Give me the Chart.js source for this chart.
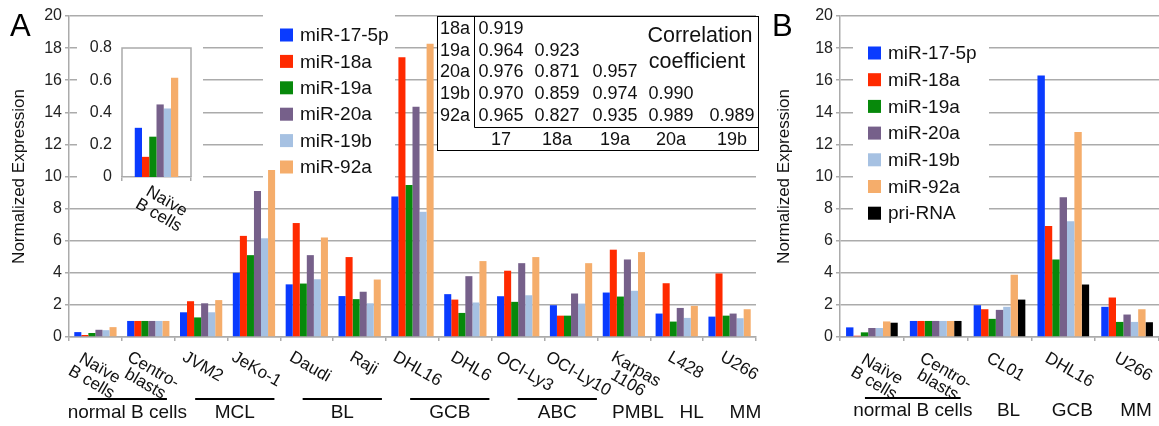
<!DOCTYPE html>
<html>
<head>
<meta charset="utf-8">
<script src="https://cdn.jsdelivr.net/npm/chart.js@4"></script>
<style>
  body { margin: 0; background: #fff; }
  #wrap { position: relative; width: 1159px; height: 426px; }
  canvas { position: absolute; }
</style>
</head>
<body>
<div id="wrap">
  <canvas id="chartA" width="770" height="426" style="left:0;top:0"></canvas>
  <canvas id="chartB" width="389" height="426" style="left:770px;top:0"></canvas>
  <canvas id="inset" width="126" height="215" style="left:77px;top:25px"></canvas>
</div>
<script>
// ---- data ----
const seriesNames = ['miR-17-5p', 'miR-18a', 'miR-19a', 'miR-20a', 'miR-19b', 'miR-92a'];
const seriesNamesB = ['miR-17-5p', 'miR-18a', 'miR-19a', 'miR-20a', 'miR-19b', 'miR-92a', 'pri-RNA'];
const colors = ['#0a3bff', '#ff2a00', '#07890b', '#76608a', '#a6c1e2', '#f5ad6b', '#000000'];

const labelsA = ['Naïve\nB cells', 'Centro-\nblasts', 'JVM2', 'JeKo-1', 'Daudi', 'Raji', 'DHL16', 'DHL6',
  'OCI-Ly3', 'OCI-Ly10', 'Karpas\n1106', 'L428', 'U266'];
const mir17A  = [0.305, 1, 1.54, 4.0, 3.28, 2.55, 8.75, 2.67, 2.54, 1.98, 2.77, 1.46, 1.27];
const mir18aA = [0.125, 1, 2.23, 6.3, 7.1, 4.98, 17.43, 2.33, 4.13, 1.33, 5.44, 3.35, 3.96];
const mir19aA = [0.25, 1, 1.22, 5.1, 3.33, 2.36, 9.47, 1.5, 2.19, 1.33, 2.52, 0.96, 1.33];
const mir20aA = [0.45, 1, 2.1, 9.1, 5.1, 2.82, 14.35, 3.79, 4.6, 2.71, 4.83, 1.81, 1.46];
const mir19bA = [0.425, 1, 1.54, 6.15, 3.6, 2.1, 7.8, 2.15, 2.6, 2.08, 2.88, 1.19, 1.17];
const mir92aA = [0.615, 1, 2.3, 10.4, 6.2, 3.58, 18.27, 4.73, 4.98, 4.6, 5.29, 1.94, 1.73];

const groupNamesA = ['normal B cells', 'MCL', 'BL', 'GCB', 'ABC', 'PMBL', 'HL', 'MM'];
const groupStartA = [0, 2, 4, 6, 8, 10, 11, 12];
const groupEndA   = [1, 3, 5, 7, 9, 10, 11, 12];

const labelsB = ['Naïve\nB cells', 'Centro-\nblasts', 'CL01', 'DHL16', 'U266'];
const mir17B  = [0.6, 1, 1.98, 16.3, 1.88];
const mir18aB = [0.08, 1, 1.73, 6.92, 2.46];
const mir19aB = [0.29, 1, 1.13, 4.83, 0.94];
const mir20aB = [0.56, 1, 1.69, 8.7, 1.4];
const mir19bB = [0.56, 1, 1.88, 7.21, 0.94];
const mir92aB = [0.97, 1, 3.88, 12.77, 1.73];
const priB    = [0.89, 1, 2.33, 3.27, 0.92];

const groupNamesB = ['normal B cells', 'BL', 'GCB', 'MM'];
const groupStartB = [0, 2, 3, 4];
const groupEndB   = [1, 2, 3, 4];

const corrRows = ['18a', '19a', '20a', '19b', '92a'];
const corrCols = ['17', '18a', '19a', '20a', '19b'];
const corrValues = [
  [0.919],
  [0.964, 0.923],
  [0.976, 0.871, 0.957],
  [0.970, 0.859, 0.974, 0.990],
  [0.965, 0.827, 0.935, 0.989, 0.989],
];

// ---- helpers ----
const FONT = '"Liberation Sans", Arial, sans-serif';
Chart.defaults.font.family = FONT;
const GRID = '#ababab';
const TXT = '#111';

function makeSets(list, names) {
  return list.map((d, i) => ({
    label: names[i],
    data: d,
    backgroundColor: colors[i],
    borderWidth: 0,
    barPercentage: 1,
  }));
}

function drawRotLabels(chart, labels, top, shift, size) {
  const ctx = chart.ctx;
  const xs = chart.scales.x;
  const th = Math.PI / 6;
  const lh = size * 0.95;
  ctx.save();
  ctx.font = size + 'px ' + FONT;
  ctx.fillStyle = TXT;
  ctx.textAlign = 'center';
  ctx.textBaseline = 'middle';
  labels.forEach((lab, i) => {
    const lines = lab.split('\n');
    const w = Math.max(...lines.map((l) => ctx.measureText(l).width));
    const h = lines.length * lh;
    const H = w * Math.sin(th) + h * Math.cos(th);
    ctx.save();
    ctx.translate(xs.getPixelForValue(i) + shift(i), top + H / 2);
    ctx.rotate(th);
    lines.forEach((l, k) => ctx.fillText(l, 0, (k - (lines.length - 1) / 2) * lh));
    ctx.restore();
  });
  ctx.restore();
}

function drawGroups(chart, names, starts, ends, lineY, textY, shift) {
  const ctx = chart.ctx;
  const xs = chart.scales.x;
  const catW = xs.getPixelForValue(1) - xs.getPixelForValue(0);
  ctx.save();
  ctx.font = '19px ' + FONT;
  ctx.fillStyle = TXT;
  ctx.strokeStyle = '#000';
  ctx.lineWidth = 2;
  ctx.textAlign = 'center';
  ctx.textBaseline = 'middle';
  names.forEach((n, i) => {
    const mid = (starts[i] + ends[i]) / 2;
    const cx = (xs.getPixelForValue(starts[i]) + xs.getPixelForValue(ends[i])) / 2 + shift(mid);
    if (ends[i] > starts[i]) {
      const half = 0.75 * catW;
      ctx.beginPath();
      ctx.moveTo(cx - half, lineY);
      ctx.lineTo(cx + half, lineY);
      ctx.stroke();
    }
    ctx.fillText(n, cx, textY);
  });
  ctx.restore();
}

function drawLegend(ctx, names, box, sqX, txtX, y0, step) {
  ctx.save();
  ctx.fillStyle = '#fff';
  ctx.fillRect(box[0], box[1], box[2], box[3]);
  ctx.font = '19px ' + FONT;
  ctx.textBaseline = 'middle';
  names.forEach((n, i) => {
    const y = y0 + i * step;
    ctx.fillStyle = colors[i];
    ctx.fillRect(sqX, y - 6.5, 13, 13);
    ctx.fillStyle = TXT;
    ctx.fillText(n, txtX, y + 1);
  });
  ctx.restore();
}

function yScale(titlePad, width) {
  return {
    min: 0, max: 20,
    ticks: { stepSize: 2, font: { size: 16 }, color: '#222', padding: 3 },
    grid: { color: GRID, lineWidth: 1.5, tickLength: 4 },
    border: { color: GRID, width: 1.5 },
    title: { display: true, text: 'Normalized Expression', font: { size: 17 }, color: TXT,
      padding: { top: titlePad, bottom: 0 } },
    afterFit(s) { s.width = width; },
  };
}

const xScale = {
  ticks: { display: false },
  grid: { display: true, drawOnChartArea: false, drawTicks: true, tickLength: 4, color: GRID, lineWidth: 1.5 },
  border: { color: GRID, width: 1.5 },
  afterFit(s) { s.height = 89; },
};

// ---- panel A ----
const panelA = {
  id: 'panelA',
  beforeDatasetsDraw(chart) {
    drawLegend(chart.ctx, seriesNames, [263, 9, 132, 183], 280, 300, 35, 26.4);
  },
  afterDraw(chart) {
    const ctx = chart.ctx;
    drawRotLabels(chart, labelsA, 349, (i) => 0.8 * i, 17);
    drawGroups(chart, groupNamesA, groupStartA, groupEndA, 399, 413, (m) => 5 + 0.9 * m);

    // correlation table
    ctx.save();
    ctx.fillStyle = '#fff';
    ctx.fillRect(437, 16, 322, 135);
    ctx.strokeStyle = '#000';
    ctx.lineWidth = 1;
    ctx.strokeRect(437.5, 16.5, 321, 134);
    ctx.beginPath();
    ctx.moveTo(474.5, 16.5);
    ctx.lineTo(474.5, 127.5);
    ctx.lineTo(758.5, 127.5);
    ctx.stroke();
    ctx.font = '18px ' + FONT;
    ctx.fillStyle = TXT;
    ctx.textBaseline = 'middle';
    const colX = [501, 557, 615, 671, 732];
    corrRows.forEach((r, i) => {
      const y = 29 + i * 21.7;
      ctx.textAlign = 'left';
      ctx.fillText(r, 440, y);
      ctx.textAlign = 'center';
      corrValues[i].forEach((v, j) => ctx.fillText(v.toFixed(3), colX[j], y));
    });
    corrCols.forEach((c, j) => ctx.fillText(c, colX[j], 140));
    ctx.font = '21.5px ' + FONT;
    ctx.fillText('Correlation', 700, 36);
    ctx.fillText('coefficient', 697, 62);

    ctx.textAlign = 'left';
    ctx.textBaseline = 'alphabetic';
    ctx.font = '31px ' + FONT;
    ctx.fillStyle = '#000';
    ctx.fillText('A', 10, 36);
    ctx.restore();
  },
};

new Chart(document.getElementById('chartA'), {
  type: 'bar',
  data: {
    labels: labelsA,
    datasets: makeSets([mir17A, mir18aA, mir19aA, mir20aA, mir19bA, mir92aA], seriesNames)
      .map((d) => ({ ...d, categoryPercentage: 0.8 })),
  },
  options: {
    responsive: false,
    animation: false,
    devicePixelRatio: 1,
    layout: { padding: { left: 0, right: 14, top: 16, bottom: 0 } },
    plugins: { legend: { display: false }, tooltip: { enabled: false } },
    scales: { x: xScale, y: yScale(9, 69) },
  },
  plugins: [panelA],
});

// ---- inset (naive B cells, 0-0.8) ----
const insetPlugin = {
  id: 'insetFrame',
  beforeDraw(chart) {
    chart.ctx.save();
    chart.ctx.fillStyle = '#fff';
    chart.ctx.fillRect(0, 0, chart.width, 170);
    chart.ctx.restore();
  },
  afterDraw(chart) {
    const a = chart.chartArea;
    const ctx = chart.ctx;
    ctx.save();
    ctx.strokeStyle = GRID;
    ctx.lineWidth = 1.5;
    ctx.beginPath();
    ctx.moveTo(a.left, a.bottom);
    ctx.lineTo(a.left, a.top);
    ctx.lineTo(a.right, a.top);
    ctx.lineTo(a.right, a.bottom);
    ctx.stroke();
    ctx.restore();
    drawRotLabels(chart, ['Naïve\nB cells'], 157, () => 6, 17);
  },
};

new Chart(document.getElementById('inset'), {
  type: 'bar',
  data: {
    labels: ['Naïve B cells'],
    datasets: makeSets([mir17A, mir18aA, mir19aA, mir20aA, mir19bA, mir92aA].map((s) => [s[0]]), seriesNames)
      .map((d) => ({ ...d, categoryPercentage: 0.63 })),
  },
  options: {
    responsive: false,
    animation: false,
    devicePixelRatio: 1,
    layout: { padding: { left: 0, right: 12, top: 23, bottom: 0 } },
    plugins: { legend: { display: false }, tooltip: { enabled: false } },
    scales: {
      x: { ...xScale, afterFit(s) { s.height = 63; } },
      y: {
        min: 0, max: 0.8,
        ticks: { stepSize: 0.2, font: { size: 16 }, color: '#222', padding: 10 },
        grid: { display: false, drawTicks: false },
        border: { display: false },
        afterFit(s) { s.width = 45; },
      },
    },
  },
  plugins: [insetPlugin],
});

// ---- panel B ----
const panelB = {
  id: 'panelB',
  beforeDatasetsDraw(chart) {
    drawLegend(chart.ctx, seriesNamesB, [83, 25, 136, 200], 98, 118, 53, 26.7);
  },
  afterDraw(chart) {
    drawRotLabels(chart, labelsB, 350, () => 6, 17);
    drawGroups(chart, groupNamesB, groupStartB, groupEndB, 398, 411, () => 9);
    const ctx = chart.ctx;
    ctx.save();
    ctx.font = '31px ' + FONT;
    ctx.fillStyle = '#000';
    ctx.fillText('B', 2, 36);
    ctx.restore();
  },
};

new Chart(document.getElementById('chartB'), {
  type: 'bar',
  data: {
    labels: labelsB,
    datasets: makeSets([mir17B, mir18aB, mir19aB, mir20aB, mir19bB, mir92aB, priB], seriesNamesB)
      .map((d) => ({ ...d, categoryPercentage: 0.81 })),
  },
  options: {
    responsive: false,
    animation: false,
    devicePixelRatio: 1,
    layout: { padding: { left: 0, right: 0, top: 16, bottom: 0 } },
    plugins: { legend: { display: false }, tooltip: { enabled: false } },
    scales: { x: xScale, y: yScale(4, 70) },
  },
  plugins: [panelB],
});
</script>
</body>
</html>
